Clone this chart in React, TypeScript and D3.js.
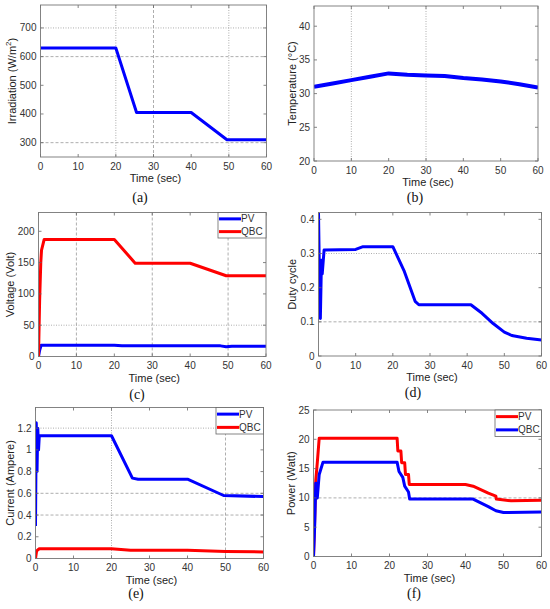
import React from "react";
import * as d3 from "d3";

type Pt = [number, number];

// (a) irradiation
const irradiation: Pt[] = [[0, 630], [20, 630], [25.5, 405], [40, 405], [49.5, 310], [60, 310]];
// (b) temperature
const temperature: Pt[] = [
  [0, 31.0], [5, 31.5], [10, 32.0], [15, 32.5], [20, 33.0], [25, 32.8], [30, 32.7],
  [35, 32.6], [40, 32.3], [45, 32.1], [50, 31.8], [55, 31.4], [60, 30.9],
];
// (c) voltage
const voltagePV: Pt[] = [[0, 0], [0.3, 10], [0.7, 18], [20, 18], [22, 17], [48, 17], [49.5, 15.5], [51, 16.5], [60, 16.5]];
const voltageQBC: Pt[] = [
  [0, 0], [0.3, 90], [0.6, 150], [0.8, 170], [1.5, 187], [20, 187], [25.5, 149], [40, 149], [49.5, 129], [60, 129],
];
// (d) duty cycle
const duty: Pt[] = [
  [0, 0.42], [0.3, 0.2], [0.5, 0.11], [0.8, 0.28], [1.0, 0.24], [1.5, 0.31], [10, 0.312], [12, 0.32],
  [20, 0.32], [23, 0.25], [26, 0.16], [27, 0.15], [41, 0.15], [44, 0.125], [47, 0.095], [50, 0.07],
  [52, 0.06], [56, 0.052], [60, 0.047],
];
// (e) current
const currentPV: Pt[] = [
  [0, 0.3], [0.2, 1.25], [0.4, 0.8], [0.6, 1.2], [0.8, 1.0], [1.0, 1.13], [20, 1.13], [25.5, 0.74],
  [27, 0.73], [40, 0.73], [49.5, 0.58], [60, 0.57],
];
const currentQBC: Pt[] = [[0, 0], [0.3, 0.07], [1, 0.09], [20, 0.09], [25, 0.075], [40, 0.075], [50, 0.065], [60, 0.06]];
// (f) power
const powerPV: Pt[] = [
  [0, 0], [0.3, 6], [0.6, 13], [1, 16], [1.5, 20.2], [22, 20.2], [22.2, 18], [23, 18], [23.2, 16], [24, 16],
  [24.2, 14], [25, 14], [25.2, 12.3], [40, 12.3], [42, 12], [46, 10.8], [48, 10.3], [48.1, 9.8], [52, 9.5], [60, 9.6],
];
const powerQBC: Pt[] = [
  [0, 0], [0.3, 5], [0.6, 12.5], [1, 10], [1.5, 14], [2.5, 16.1], [22, 16.1], [22.5, 14.5], [23.5, 13.5],
  [24, 12], [25, 11], [25.3, 9.8], [42, 9.8], [46, 8.5], [48, 7.8], [50, 7.5], [60, 7.6],
];

const timeTicks = [0, 10, 20, 30, 40, 50, 60];

const BLUE = "#0000ff";
const RED = "#ff0000";
const SANS = "Liberation Sans, Arial, sans-serif";

type Grid = { v: number; s: "dot" | "dash" };
type Series = { data: Pt[]; color: string; width?: number; name?: string };

interface PanelProps {
  box: { l: number; r: number; t: number; b: number };
  yDomain: [number, number];
  yTicks: number[];
  yLabel: React.ReactNode;
  yLabelX: number;
  gridX?: Grid[];
  gridY?: Grid[];
  series: Series[];
  legend?: { x: number; y: number; w: number; h: number };
  caption: string;
  captionX: number;
  captionY: number;
}

const dashOf = (s: string) => (s === "dot" ? "1 1.5" : "3 2");

const Panel: React.FC<PanelProps> = ({
  box, yDomain, yTicks, yLabel, yLabelX, gridX = [], gridY = [], series, legend, caption, captionX, captionY,
}) => {
  const x = d3.scaleLinear().domain([0, 60]).range([box.l, box.r]);
  const y = d3.scaleLinear().domain(yDomain).range([box.b, box.t]);
  const line = d3.line<Pt>().x((d) => x(d[0])).y((d) => y(d[1]));
  const clipId = `clip-${caption}`;
  const fmt = (v: number) => String(+v.toFixed(2));
  return (
    <g>
      <defs>
        <clipPath id={clipId}>
          <rect x={box.l} y={box.t} width={box.r - box.l} height={box.b - box.t} />
        </clipPath>
      </defs>
      <rect x={box.l} y={box.t} width={box.r - box.l} height={box.b - box.t} fill="#fff" />
      {gridX.map((g, i) => (
        <line key={"gx" + i} x1={x(g.v)} x2={x(g.v)} y1={box.t} y2={box.b} stroke="#999" strokeWidth={0.8} strokeDasharray={dashOf(g.s)} />
      ))}
      {gridY.map((g, i) => (
        <line key={"gy" + i} x1={box.l} x2={box.r} y1={y(g.v)} y2={y(g.v)} stroke="#999" strokeWidth={0.8} strokeDasharray={dashOf(g.s)} />
      ))}
      <g clipPath={`url(#${clipId})`}>
        {series.map((s, i) => (
          <path key={i} d={line(s.data) || ""} fill="none" stroke={s.color} strokeWidth={s.width ?? 3} strokeLinejoin="round" />
        ))}
      </g>
      {/* ticks */}
      {timeTicks.map((t) => (
        <g key={"tx" + t}>
          <line x1={x(t)} x2={x(t)} y1={box.b} y2={box.b - 3} stroke="#666" strokeWidth={0.8} />
          <line x1={x(t)} x2={x(t)} y1={box.t} y2={box.t + 3} stroke="#666" strokeWidth={0.8} />
          <text x={x(t)} y={box.b + 12.5} textAnchor="middle" fontSize={10} fill="#333" fontFamily={SANS}>{t}</text>
        </g>
      ))}
      {yTicks.map((t) => (
        <g key={"ty" + t}>
          <line x1={box.l} x2={box.l + 3} y1={y(t)} y2={y(t)} stroke="#666" strokeWidth={0.8} />
          <line x1={box.r} x2={box.r - 3} y1={y(t)} y2={y(t)} stroke="#666" strokeWidth={0.8} />
          <text x={box.l - 4} y={y(t)} dy="0.35em" textAnchor="end" fontSize={10} fill="#333" fontFamily={SANS}>{fmt(t)}</text>
        </g>
      ))}
      <rect x={box.l} y={box.t} width={box.r - box.l} height={box.b - box.t} fill="none" stroke="#777" strokeWidth={0.9} />
      <text x={(box.l + box.r) / 2 + 2} y={box.b + 25} textAnchor="middle" fontSize={11} fill="#222" fontFamily={SANS}>Time (sec)</text>
      <text
        transform={`translate(${yLabelX},${(box.t + box.b) / 2}) rotate(-90)`}
        textAnchor="middle" dominantBaseline="middle" fontSize={11} fill="#222" fontFamily={SANS}
      >{yLabel}</text>
      {legend && (
        <g>
          <rect x={legend.x} y={legend.y} width={legend.w} height={legend.h} fill="#fff" stroke="#666" strokeWidth={0.8} />
          {series.map((s, i) => {
            const ly = legend.y + legend.h * (i + 0.5) / series.length;
            return (
              <g key={"lg" + i}>
                <line x1={legend.x + 1} x2={legend.x + 23} y1={ly} y2={ly} stroke={s.color} strokeWidth={3} />
                <text x={legend.x + 23} y={ly} dy="0.35em" fontSize={10} fill="#333" fontFamily={SANS}>{s.name}</text>
              </g>
            );
          })}
        </g>
      )}
      <text x={captionX} y={captionY} textAnchor="middle" fontSize={14} fill="#111" fontFamily="Liberation Serif, Times New Roman, serif">({caption})</text>
    </g>
  );
};

export default function App() {
  return (
    <svg width={550} height={609} style={{ position: "absolute", left: 0, top: 0, background: "#fff" }}>
      <Panel
        box={{ l: 40.5, r: 266.5, t: 5, b: 157 }}
        yDomain={[250, 780]}
        yTicks={[300, 400, 500, 600, 700]}
        yLabel={<>Irradiation (W/m<tspan baselineShift="super" fontSize={8}>2</tspan>)</>}
        yLabelX={13}
        gridX={[{ v: 20, s: "dot" }, { v: 30, s: "dash" }, { v: 50, s: "dot" }]}
        gridY={[{ v: 700, s: "dot" }, { v: 600, s: "dash" }, { v: 300, s: "dash" }]}
        series={[{ data: irradiation, color: BLUE }]}
        caption="a" captionX={140} captionY={202}
      />
      <Panel
        box={{ l: 314, r: 538, t: 6, b: 161 }}
        yDomain={[20, 43]}
        yTicks={[20, 25, 30, 35, 40]}
        yLabel="Temperature (°C)"
        yLabelX={293}
        gridX={[{ v: 10, s: "dot" }, { v: 30, s: "dot" }]}
        series={[{ data: temperature, color: BLUE, width: 4 }]}
        caption="b" captionX={415} captionY={202}
      />
      <Panel
        box={{ l: 38.5, r: 266, t: 212.5, b: 356.5 }}
        yDomain={[0, 230]}
        yTicks={[0, 50, 100, 150, 200]}
        yLabel="Voltage (Volt)"
        yLabelX={11}
        gridX={[{ v: 10, s: "dash" }, { v: 30, s: "dash" }, { v: 50, s: "dash" }]}
        gridY={[{ v: 50, s: "dot" }]}
        series={[{ data: voltagePV, color: BLUE, name: "PV" }, { data: voltageQBC, color: RED, name: "QBC" }]}
        legend={{ x: 218, y: 212.5, w: 48, h: 25.5 }}
        caption="c" captionX={137} captionY={399}
      />
      <Panel
        box={{ l: 318.5, r: 541.5, t: 212.5, b: 356 }}
        yDomain={[0, 0.42]}
        yTicks={[0, 0.1, 0.2, 0.3, 0.4]}
        yLabel="Duty cycle"
        yLabelX={293}
        gridY={[{ v: 0.3, s: "dot" }, { v: 0.1, s: "dash" }]}
        series={[{ data: duty, color: BLUE }]}
        caption="d" captionX={413} captionY={397}
      />
      <Panel
        box={{ l: 35.5, r: 263.5, t: 407.5, b: 558.5 }}
        yDomain={[0, 1.39]}
        yTicks={[0, 0.2, 0.4, 0.6, 0.8, 1, 1.2]}
        yLabel="Current (Ampere)"
        yLabelX={11}
        gridX={[{ v: 20, s: "dot" }, { v: 50, s: "dash" }]}
        gridY={[{ v: 1.2, s: "dot" }, { v: 0.6, s: "dash" }, { v: 0.4, s: "dash" }]}
        series={[{ data: currentPV, color: BLUE, name: "PV" }, { data: currentQBC, color: RED, name: "QBC" }]}
        legend={{ x: 216, y: 407.5, w: 47.5, h: 26.5 }}
        caption="e" captionX={136} captionY={598}
      />
      <Panel
        box={{ l: 313.5, r: 541.5, t: 410, b: 556.5 }}
        yDomain={[0, 25]}
        yTicks={[0, 5, 10, 15, 20, 25]}
        yLabel="Power (Watt)"
        yLabelX={292}
        gridY={[{ v: 10, s: "dash" }]}
        series={[{ data: powerPV, color: RED, name: "PV" }, { data: powerQBC, color: BLUE, name: "QBC" }]}
        legend={{ x: 495, y: 410, w: 46.5, h: 26.5 }}
        caption="f" captionX={414} captionY={598}
      />
    </svg>
  );
}
